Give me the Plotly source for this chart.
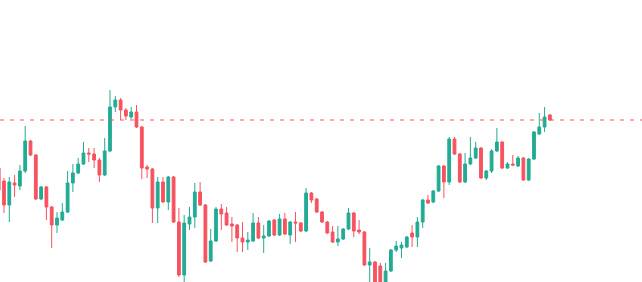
import plotly.graph_objects as go

# OHLC values (arbitrary price units)
open_ = [132, 119, 95, 117, 114, 129, 159, 145, 101, 113, 93, 75, 80, 88, 117, 127, 136, 147, 146, 140,
         125, 149, 193, 200, 190, 183, 188, 173, 133, 131, 92, 118, 98, 123, 78, 25, 76, 83, 108, 95,
         39, 59, 91, 87, 76, 75, 62, 58, 59, 77, 62, 64, 80, 65, 81, 65, 78, 77, 69, 107,
         101, 88, 78, 68, 58, 61, 71, 87, 70, 68, 35, 38, 34, 10, 29, 50, 52, 53, 67, 63,
         78, 100, 98, 109, 134, 118, 161, 146, 118, 136, 142, 152, 122, 129, 149, 158, 132, 136, 134, 142,
         120, 141, 166, 173, 185]
high = [135, 122, 123, 125, 135, 174, 160, 146, 114, 114, 94, 88, 97, 129, 136, 142, 158, 152, 152, 142,
        162, 210, 204, 202, 192, 193, 195, 174, 135, 132, 123, 123, 124, 124, 92, 85, 93, 117, 118, 96,
        71, 93, 96, 93, 83, 76, 78, 68, 87, 83, 75, 80, 81, 86, 87, 79, 88, 78, 112, 108,
        102, 89, 79, 74, 74, 72, 92, 88, 80, 69, 52, 39, 37, 37, 51, 59, 58, 64, 75, 83,
        101, 105, 110, 135, 135, 163, 163, 147, 147, 163, 158, 153, 130, 151, 172, 159, 138, 145, 144, 143,
        142, 169, 187, 193, 186]
low = [95, 87, 78, 103, 110, 127, 144, 100, 100, 80, 52, 67, 79, 87, 108, 126, 135, 138, 132, 118,
       124, 148, 188, 180, 180, 181, 172, 121, 122, 77, 77, 97, 90, 77, 23, 18, 70, 72, 94, 37,
       38, 58, 70, 74, 58, 48, 48, 50, 58, 61, 47, 63, 64, 64, 65, 56, 58, 68, 68, 97,
       87, 77, 66, 57, 54, 60, 70, 63, 66, 34, 18, 10, 5, 8, 28, 48, 42, 52, 53, 53,
       72, 96, 97, 108, 102, 115, 145, 117, 117, 135, 141, 121, 120, 127, 148, 131, 131, 134, 133, 119,
       119, 140, 165, 168, 179]
close = [110, 95, 118, 115, 129, 159, 145, 101, 113, 93, 75, 82, 88, 117, 127, 136, 147, 146, 140, 125,
         149, 193, 200, 190, 184, 188, 173, 132, 131, 92, 118, 98, 123, 78, 25, 77, 83, 108, 95, 38,
         59, 91, 86, 75, 74, 62, 58, 60, 77, 62, 64, 79, 65, 81, 66, 78, 77, 69, 107, 100,
         88, 78, 67, 58, 61, 71, 87, 69, 68, 35, 38, 15, 10, 29, 50, 54, 55, 63, 63, 78,
         100, 97, 109, 134, 118, 161, 146, 118, 136, 142, 152, 122, 129, 149, 158, 132, 136, 135, 142, 120,
         141, 168, 173, 183, 180]
index = list(range(len(close)))

UP = "#22ab94"
DOWN = "#f7525f"

fig = go.Figure(go.Candlestick(
    x=index, open=open_, high=high, low=low, close=close,
    increasing=dict(line=dict(color=UP, width=1), fillcolor=UP),
    decreasing=dict(line=dict(color=DOWN, width=1), fillcolor=DOWN),
    whiskerwidth=0,
    hoverinfo="skip",
))

# last price line
fig.add_hline(y=close[-1], line=dict(color=DOWN, width=1, dash="4px,6px"))

fig.update_layout(
    width=642, height=282,
    margin=dict(l=0, r=0, t=0, b=0),
    paper_bgcolor="white", plot_bgcolor="white",
    showlegend=False,
    boxgap=0.25,
    xaxis=dict(visible=False, range=[0.245, 121.38], rangeslider=dict(visible=False), fixedrange=True),
    yaxis=dict(visible=False, range=[18, 300], fixedrange=True),
)

fig.write_html("out.html", config={"displayModeBar": False})
